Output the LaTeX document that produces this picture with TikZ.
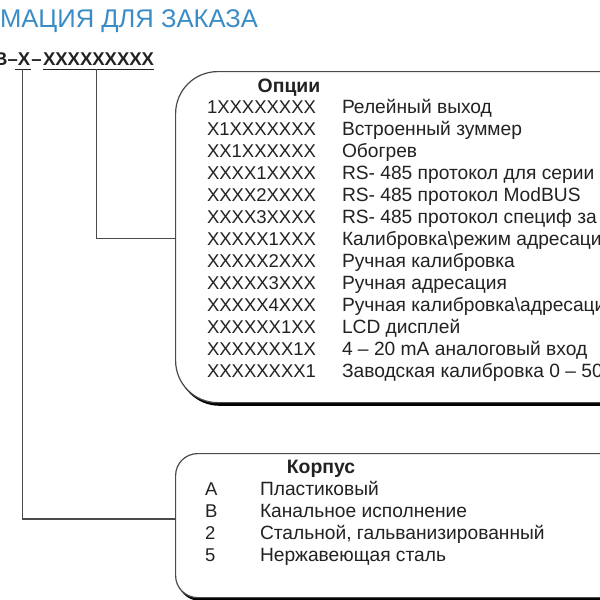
\documentclass[tikz,border=0pt]{standalone}
\usepackage{fontspec}
\setmainfont{Liberation Sans}
\usetikzlibrary{shadows}
\definecolor{titleblue}{HTML}{3A8CC6}
\definecolor{ink}{HTML}{222222}
\definecolor{edge}{HTML}{4A4A4A}
\begin{document}
\begin{tikzpicture}[x=1pt,y=-1pt,
  txt/.style={inner sep=0pt, outer sep=0pt, text=ink, font=\fontsize{18.5}{22}\selectfont},
  desc/.style={txt, font=\fontsize{19.2}{22}\selectfont},
  bold/.style={txt, font=\fontsize{18.5}{22}\selectfont\bfseries},
  head/.style={txt, font=\fontsize{19.4}{22}\selectfont\bfseries},
  box/.style={draw=edge, line width=1.2pt, fill=white,
    general shadow={fill=black, shadow xshift=2pt, shadow yshift=-3.2pt}},
  conn/.style={draw=edge, line width=1.1pt},
  uline/.style={draw=ink, line width=1pt}]
\useasboundingbox (0,0) rectangle (600,600);

% title
\node[inner sep=0pt, outer sep=0pt, anchor=base west, text=titleblue,
  font=\fontsize{25.6}{26}\selectfont] (title) at (0,27) {МАЦИЯ ДЛЯ ЗАКАЗА};

% part number
\node[bold, anchor=base west] (xx) at (43,65) {XXXXXXXXX};
\node[bold, anchor=base] (xs) at (24,65) {X};
\node[bold, anchor=base] (d2) at (36.6,65) {–};
\node[bold, anchor=base east] (d1) at (xs.base west) {B–};
\coordinate (ul1a) at ([xshift=-2.5pt,yshift=-4pt]xs.base west);
\coordinate (ul1b) at ([xshift=1pt,yshift=-4pt]xs.base east);
\coordinate (ul1m) at ([xshift=-1.5pt,yshift=-4pt]xs.base);
\coordinate (ul2a) at ([yshift=-4pt]xx.base west);
\coordinate (ul2b) at ([yshift=-4pt]xx.base east);
\coordinate (ul2m) at ([xshift=-2pt,yshift=-4pt]xx.base);
\draw[uline] (ul1a) -- (ul1b);
\draw[uline] (ul2a) -- (ul2b);

% options box
\node[box, rounded corners=42pt, anchor=north west, minimum width=480pt,
  minimum height=331pt, inner sep=0pt] (opt) at (175,71) {};
\node[head, anchor=base] (opth) at (289,92) {Опции};
\foreach \c/\d [count=\i] in {
  1XXXXXXXX/{Релейный выход},
  X1XXXXXXX/{Встроенный зуммер},
  XX1XXXXXX/{Обогрев},
  XXXX1XXXX/{RS- 485 протокол для серии},
  XXXX2XXXX/{RS- 485 протокол ModBUS},
  XXXX3XXXX/{RS- 485 протокол специф за},
  XXXXX1XXX/{Калибровка\textbackslash режим адресаци},
  XXXXX2XXX/{Ручная калибровка},
  XXXXX3XXX/{Ручная адресация},
  XXXXX4XXX/{Ручная калибровка\textbackslash адресаци},
  XXXXXX1XX/{LCD дисплей},
  XXXXXXX1X/{4 – 20 mA аналоговый вход},
  XXXXXXXX1/{Заводская калибровка 0 – 50}}{
  \node[txt, anchor=base west] (c\i) at (207,{113+22*(\i-1)}) {\c};
  \node[desc, anchor=base west] (d\i) at (342,{113+22*(\i-1)}) {\d};
}

% housing box
\node[box, rounded corners=22pt, anchor=north west, minimum width=480pt,
  minimum height=144pt, inner sep=0pt] (korp) at (175,453) {};
\node[head, anchor=base] (korph) at (321,473) {Корпус};
\foreach \c/\d [count=\i] in {
  A/{Пластиковый},
  B/{Канальное исполнение},
  2/{Стальной, гальванизированный},
  5/{Нержавеющая сталь}}{
  \node[txt, anchor=base west] (k\i) at (205,{495+22*(\i-1)}) {\c};
  \node[desc, anchor=base west] (kd\i) at (260,{495+22*(\i-1)}) {\d};
}
\coordinate (kj) at (175,519);

% connectors
\draw[conn] (ul1m) |- (korp.west |- kj);
\draw[conn] (ul2m) |- (opt.west |- c7.west);
\end{tikzpicture}
\end{document}
